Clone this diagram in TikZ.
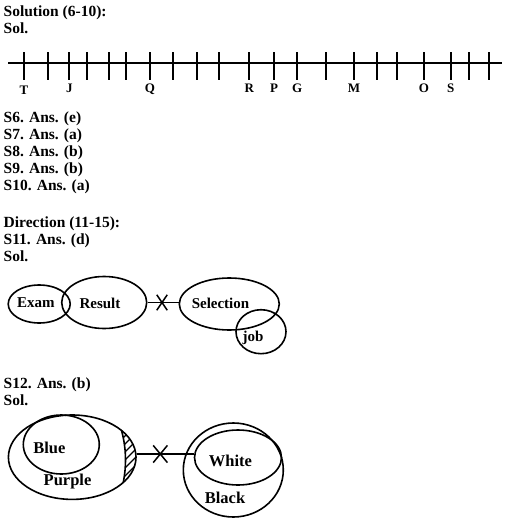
\documentclass[tikz,border=0pt]{standalone}
\usepackage{fontspec}
\setmainfont{Liberation Serif}
\usetikzlibrary{shapes.geometric,shapes.misc}
\begin{document}
\begin{tikzpicture}[x=1pt,y=-1pt,
  txt/.style={anchor=base west,inner sep=0pt,font=\fontsize{15.5}{17}\selectfont\bfseries},
  lbl/.style={anchor=base,inner sep=0pt,font=\fontsize{13}{15}\selectfont\bfseries},
  etxt/.style={inner sep=0pt,font=\fontsize{15}{17}\selectfont\bfseries},
  etxtb/.style={inner sep=0pt,font=\fontsize{16.5}{18}\selectfont\bfseries},
  ell/.style={draw,ellipse,line width=1.6pt,inner sep=0pt},
  conn/.style={line width=1.5pt},
  xmark/.style={draw,cross out,line width=1.5pt,inner sep=0pt}
]
\useasboundingbox (0,0) rectangle (512,524);

% header text
\node[txt] (t1) at (3.5,16.5) {Solution (6-10):};
\node[txt] (t2) at (3.5,33.5) {Sol.};

% number line
\draw[line width=2pt] (8,63.5) -- (502,63.5);
\foreach \x in {24,48.3,69.3,87.3,109.3,126,150,172.7,196.7,219.3,249.3,274,297.3,326,354,377.3,397.3,424,450.7,469.3,489.3}
  \draw[line width=2pt] (\x,52.5) -- (\x,80);
\node[lbl] (lT) at (24,95) {T};
\node[lbl] (lJ) at (69.3,93) {J};
\node[lbl] (lQ) at (150,93) {Q};
\node[lbl] (lR) at (249.3,93) {R};
\node[lbl] (lP) at (274,93) {P};
\node[lbl] (lG) at (297.3,93) {G};
\node[lbl] (lM) at (354,93) {M};
\node[lbl] (lO) at (424,93) {O};
\node[lbl] (lS) at (450.7,93) {S};

% answers
\node[txt] (a6) at (3.5,122.5) {S6. Ans. (e)};
\node[txt] (a7) at (3.5,139.6) {S7. Ans. (a)};
\node[txt] (a8) at (3.5,156.7) {S8. Ans. (b)};
\node[txt] (a9) at (3.5,173.8) {S9. Ans. (b)};
\node[txt] (a10) at (3.5,190.9) {S10. Ans. (a)};
\node[txt] (d1) at (3.5,227.5) {Direction (11-15):};
\node[txt] (a11) at (3.5,244.5) {S11. Ans. (d)};
\node[txt] (s11) at (3.5,261.5) {Sol.};

% diagram 1
\node[ell,minimum width=62pt,minimum height=38pt] (exam) at (39.2,304) {};
\node[ell,minimum width=85pt,minimum height=52pt] (result) at (104.2,302.5) {};
\node[ell,minimum width=100pt,minimum height=52pt] (selection) at (229.3,304) {};
\node[ell,minimum width=50pt,minimum height=44pt] (job) at (261,331.7) {};
\node[etxt] at (35.8,303) {Exam};
\node[etxt] at (100,303) {Result};
\node[etxt] at (220.5,303) {Selection};
\node[etxt] at (253,338) {job};
\draw[conn] (result.east) -- (result.east -| selection.west);
\node[xmark,minimum width=9pt,minimum height=14pt] (x1) at (162,302.5) {};

% S12
\node[txt] (a12) at (3.5,388) {S12. Ans. (b)};
\node[txt] (s12) at (3.5,405) {Sol.};

% diagram 2
\node[ell,minimum width=127.6pt,minimum height=84.4pt] (purple) at (72.2,457.2) {};
\node[ell,minimum width=76pt,minimum height=59pt] (blue) at (61.3,444.5) {};
\begin{scope}
  \clip (72.2,457.2) ellipse [x radius=63.8, y radius=42.2];
  \draw[line width=1.6pt] (118,420) .. controls (128,445) and (128,475) .. (118,500);
  \clip (118,420) .. controls (128,445) and (128,475) .. (118,500) -- (160,500) -- (160,420) -- cycle;
  \foreach \k in {0,...,10}
    \draw[line width=1.2pt] (105,432+8*\k) -- (150,387+8*\k);
\end{scope}
\node[ell,minimum width=100pt,minimum height=94pt] (black) at (233.3,470) {};
\node[ell,minimum width=87pt,minimum height=55pt] (white) at (238,457.5) {};
\node[etxtb] at (49.3,447.5) {Blue};
\node[etxtb] at (67.5,482) {Purple};
\node[etxtb] at (230.5,461) {White};
\node[etxtb] at (225,497.5) {Black};
\draw[conn] (purple.3) -- (purple.3 -| white.west);
\node[xmark,minimum width=12.7pt,minimum height=15.7pt] (x2) at (160.3,454) {};
\end{tikzpicture}
\end{document}
